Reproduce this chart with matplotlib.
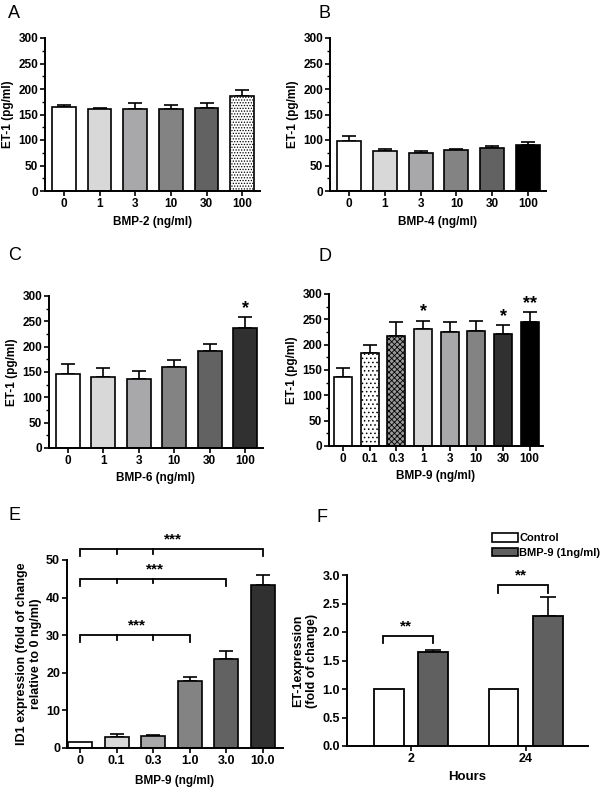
import matplotlib
matplotlib.use("Agg")
import matplotlib.pyplot as plt
import numpy as np
from matplotlib.patches import Patch

plt.rcParams["font.family"] = ["Liberation Sans", "DejaVu Sans"]
plt.rcParams["font.weight"] = "bold"
plt.rcParams["hatch.linewidth"] = 0.6

# Panel A: BMP-2
a_labels = ["0", "1", "3", "10", "30", "100"]
a_means = [165, 160, 161, 161, 162, 186]
a_errs = [4, 3, 11, 7, 11, 12]
a_colors = ["white", "#d8d8d8", "#a8a8aa", "#838383", "#626262", "white"]
a_hatch = [None, None, None, None, None, "......"]

# Panel B: BMP-4
b_labels = ["0", "1", "3", "10", "30", "100"]
b_means = [98, 79, 75, 80, 85, 90]
b_errs = [10, 4, 3, 3, 3, 6]
b_colors = ["white", "#d8d8d8", "#a8a8aa", "#838383", "#626262", "black"]

# Panel C: BMP-6
c_labels = ["0", "1", "3", "10", "30", "100"]
c_means = [147, 141, 136, 160, 192, 236]
c_errs = [19, 17, 16, 14, 14, 22]
c_stars = ["", "", "", "", "", "*"]
c_colors = ["white", "#d8d8d8", "#a8a8aa", "#838383", "#626262", "#303030"]

# Panel D: BMP-9
d_labels = ["0", "0.1", "0.3", "1", "3", "10", "30", "100"]
d_means = [137, 183, 218, 230, 225, 227, 222, 245]
d_errs = [17, 17, 26, 17, 19, 19, 16, 19]
d_stars = ["", "", "", "*", "", "", "*", "**"]
d_colors = ["white", "white", "#9a9a9a", "#d8d8d8", "#a8a8aa", "#838383", "#303030", "black"]
d_hatch = [None, "....", "xxxxxx", None, None, None, None, None]

# Panel E: ID1 expression
e_labels = ["0", "0.1", "0.3", "1.0", "3.0", "10.0"]
e_means = [1.6, 2.9, 3.1, 17.7, 23.8, 43.3]
e_errs = [0, 0.7, 0.3, 1.3, 2.0, 2.7]
e_colors = ["white", "#d8d8d8", "#a8a8aa", "#838383", "#626262", "#303030"]
# brackets: (end index, height)
e_brackets = [(3, 30.0), (4, 45.0), (5, 52.9)]

# Panel F: time course
f_groups = ["2", "24"]
f_control = [1.0, 1.0]
f_bmp9 = [1.65, 2.28]
f_bmp9_err = [0.03, 0.34]
f_bracket_y = [1.93, 2.82]

W, H = 610, 795
fig = plt.figure(figsize=(W / 100, H / 100), dpi=100)


def make_ax(left, top, right, bottom):
    ax = fig.add_axes([left / W, 1 - bottom / H, (right - left) / W, (bottom - top) / H])
    for s in ["top", "right"]:
        ax.spines[s].set_visible(False)
    for s in ["left", "bottom"]:
        ax.spines[s].set_linewidth(1.4)
    ax.tick_params(axis="both", width=1.2, length=3.5, labelsize=8, pad=1.5)
    ax.tick_params(axis="y", which="minor", width=1.0, length=2)
    return ax


def bar_panel(ax, labels, means, errs, colors, hatches=None, stars=None,
              width=0.67, ylim=(0, 300), yticks=range(0, 301, 50), minor=25):
    x = np.arange(len(labels))
    for i in x:
        h = hatches[i] if hatches else None
        ax.bar(i, means[i], width=width, color=colors[i], edgecolor="black",
               linewidth=1.2, hatch=h, zorder=2)
        if errs[i] > 0:
            ax.errorbar(i, means[i], yerr=[[0], [errs[i]]], fmt="none",
                        ecolor="black", elinewidth=1.2, capsize=5, capthick=1.2, zorder=1)
        if stars and stars[i]:
            ax.text(i, means[i] + errs[i] + 1, stars[i], ha="center", va="bottom",
                    fontsize=13, fontweight="bold")
    ax.set_xlim(-0.53, len(labels) - 0.5)
    ax.set_ylim(*ylim)
    ax.set_xticks(x)
    ax.set_xticklabels(labels, fontweight="bold", fontsize=8.5)
    ax.set_yticks(list(yticks))
    ax.set_yticklabels([str(t) for t in yticks], fontweight="bold", fontsize=8.5)
    if minor:
        ax.set_yticks(np.arange(ylim[0], ylim[1] + 1, minor), minor=True)
    return ax


# A
ax = make_ax(45, 38, 260, 191)
bar_panel(ax, a_labels, a_means, a_errs, a_colors, hatches=a_hatch)
ax.set_xlabel("BMP-2 (ng/ml)", fontsize=8.5, fontweight="bold", labelpad=4)
ax.set_ylabel("ET-1 (pg/ml)", fontsize=8.5, fontweight="bold", labelpad=3)

# B
ax = make_ax(330, 38, 546, 191)
bar_panel(ax, b_labels, b_means, b_errs, b_colors)
ax.set_xlabel("BMP-4 (ng/ml)", fontsize=8.5, fontweight="bold", labelpad=4)
ax.set_ylabel("ET-1 (pg/ml)", fontsize=8.5, fontweight="bold", labelpad=3)

# C
ax = make_ax(49, 296, 263, 448)
bar_panel(ax, c_labels, c_means, c_errs, c_colors, stars=c_stars)
ax.set_xlabel("BMP-6 (ng/ml)", fontsize=8.5, fontweight="bold", labelpad=4)
ax.set_ylabel("ET-1 (pg/ml)", fontsize=8.5, fontweight="bold", labelpad=3)

# D
ax = make_ax(329, 294, 543, 446)
bar_panel(ax, d_labels, d_means, d_errs, d_colors, hatches=d_hatch, stars=d_stars)
ax.set_xlabel("BMP-9 (ng/ml)", fontsize=8.5, fontweight="bold", labelpad=4)
ax.set_ylabel("ET-1 (pg/ml)", fontsize=8.5, fontweight="bold", labelpad=3)

# E
ax = make_ax(67, 560, 283, 748)
bar_panel(ax, e_labels, e_means, e_errs, e_colors, width=0.65,
          ylim=(0, 50), yticks=range(0, 51, 10), minor=None)
ax.set_xlim(-0.36, len(e_labels) - 0.45)
ax.set_xticklabels(e_labels, fontweight="bold", fontsize=9)
ax.set_yticklabels([str(t) for t in range(0, 51, 10)], fontweight="bold", fontsize=9)
ax.set_xlabel("BMP-9 (ng/ml)", fontsize=8.5, fontweight="bold", labelpad=6)
ax.set_ylabel("ID1 expression (fold of change\nrelative to 0 ng/ml)", fontsize=9,
              fontweight="bold", labelpad=3)
for end, yb in e_brackets:
    ax.plot([0, 0, end, end], [yb - 1.8, yb, yb, yb - 1.8], color="black",
            lw=1.3, clip_on=False, solid_joinstyle="miter")
    for k in range(1, min(end, 3)):
        ax.plot([k, k], [yb, yb - 1.2], color="black", lw=1.3, clip_on=False)
    ax.text(end / 2 + 0.05, yb + 0.6, "***", ha="center", va="bottom",
            fontsize=11, fontweight="bold", clip_on=False)

# F
ax = make_ax(347, 575, 588, 746)
xg = np.arange(len(f_groups))
off, bw = 0.195, 0.26
ax.bar(xg - off, f_control, width=bw, color="white", edgecolor="black",
       linewidth=1.3, label="Control", zorder=2)
ax.bar(xg + off, f_bmp9, width=bw, color="#606060", edgecolor="black",
       linewidth=1.3, label="BMP-9 (1ng/ml)", zorder=2)
ax.errorbar(xg + off, f_bmp9, yerr=[np.zeros(len(f_bmp9)), f_bmp9_err], fmt="none",
            ecolor="black", elinewidth=1.2, capsize=6, capthick=1.2, zorder=1)
for i, yb in enumerate(f_bracket_y):
    x0, x1 = xg[i] - off - 0.05, xg[i] + off
    ax.plot([x0, x0, x1, x1], [yb - 0.13, yb, yb, yb - 0.13], color="black", lw=1.3,
            solid_joinstyle="miter")
    ax.text((x0 + x1) / 2 - 0.02, yb + 0.05, "**", ha="center", va="bottom",
            fontsize=11, fontweight="bold")
ax.set_xlim(-0.557, 1.54)
ax.set_ylim(0, 3.0)
ax.set_yticks(np.arange(0, 3.01, 0.5))
ax.set_yticklabels([f"{t:.1f}" for t in np.arange(0, 3.01, 0.5)], fontweight="bold", fontsize=9)
ax.set_xticks(xg)
ax.set_xticklabels(f_groups, fontweight="bold", fontsize=9)
ax.set_xlabel("Hours", fontsize=9.5, fontweight="bold", labelpad=4)
ax.set_ylabel("ET-1expression\n(fold of change)", fontsize=9, fontweight="bold", labelpad=3)
handles = [Patch(facecolor="white", edgecolor="black", linewidth=1.2),
           Patch(facecolor="#606060", edgecolor="black", linewidth=1.2)]
ax.legend(handles, ["Control", "BMP-9 (1ng/ml)"], loc="lower left",
          bbox_to_anchor=(0.6, 1.1), frameon=False, fontsize=8,
          handlelength=2.4, handleheight=0.8, handletextpad=0.1,
          labelspacing=0.4, borderaxespad=0, borderpad=0)

# panel letters
for letter, (px, py) in {"A": (8, 14), "B": (318, 14), "C": (8, 255),
                         "D": (318, 257), "E": (8, 515), "F": (316, 517)}.items():
    fig.text(px / W, 1 - py / H, letter, fontsize=13, fontweight="normal",
             ha="left", va="center")

fig.savefig("out.png", dpi=100)
